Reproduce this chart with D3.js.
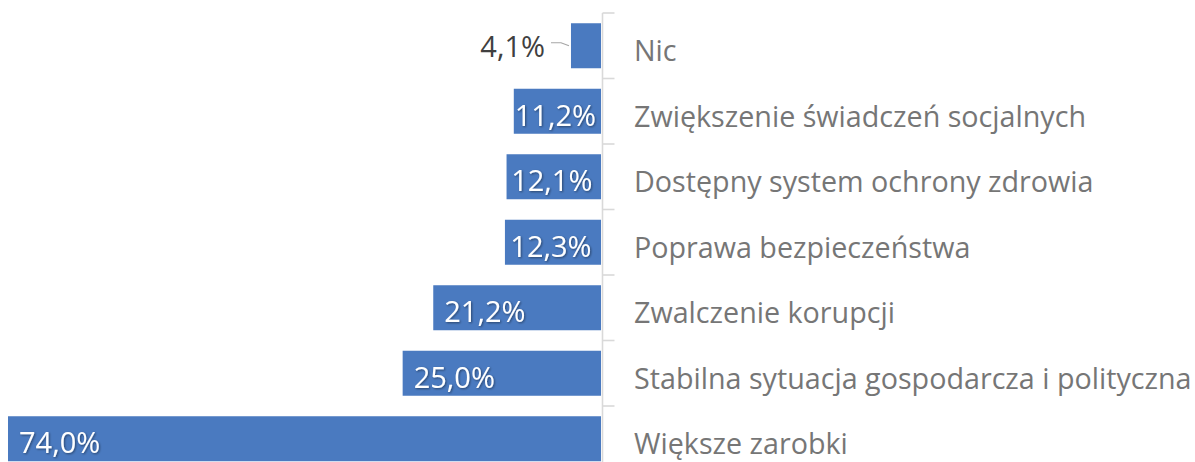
<!DOCTYPE html>
<html>
<head>
<meta charset="utf-8">
<script src="https://cdn.jsdelivr.net/npm/d3@7/dist/d3.min.js"></script>
<style>
  html, body { margin: 0; padding: 0; background: #fff; }
  svg { display: block; }
  .cat { font-family: "Open Sans", "Noto Sans", sans-serif; font-size: 28.7px; fill: #767676; }
  .val { font-family: "Open Sans", "Noto Sans", sans-serif; font-size: 29px; }
</style>
</head>
<body>
<svg id="chart" width="1195" height="462"></svg>
<script>
// Survey answers, top to bottom
const categories = [
  "Nic",
  "Zwiększenie świadczeń socjalnych",
  "Dostępny system ochrony zdrowia",
  "Poprawa bezpieczeństwa",
  "Zwalczenie korupcji",
  "Stabilna sytuacja gospodarcza i polityczna",
  "Większe zarobki"
];
const values = [4.1, 11.2, 12.1, 12.3, 21.2, 25.0, 74.0];
const valueLabels = ["4,1%", "11,2%", "12,1%", "12,3%", "21,2%", "25,0%", "74,0%"];

const data = categories.map((c, i) => ({ cat: c, value: values[i], label: valueLabels[i] }));

const svg = d3.select("#chart");

const defs = svg.append("defs");
const shadow = defs.append("filter").attr("id", "txtShadow")
  .attr("x", "-10%").attr("y", "-20%").attr("width", "130%").attr("height", "150%");
shadow.append("feDropShadow").attr("dx", 1).attr("dy", 1).attr("stdDeviation", 0.8)
  .attr("flood-color", "#000").attr("flood-opacity", 0.45);

// Bars grow leftwards from the axis
const x = d3.scaleLinear().domain([0, 74]).range([604, 8]);
const y = d3.scaleBand().domain(categories)
  .range([13, 13 + 7 * 65.5])
  .paddingInner(0.313).paddingOuter(0.1565);

const axisX = 602.5;
const barEnd = x(0) - 3;

svg.append("g").selectAll("rect").data(data).join("rect")
  .attr("x", d => x(d.value))
  .attr("y", d => y(d.cat))
  .attr("width", d => barEnd - x(d.value))
  .attr("height", y.bandwidth())
  .attr("fill", "#4a7ac0");

// Category axis on the right, ticks between bands
const axisG = svg.append("g");
axisG.append("line")
  .attr("x1", axisX).attr("x2", axisX)
  .attr("y1", y.range()[0]).attr("y2", 470)
  .attr("stroke", "#d9d9d9").attr("stroke-width", 1.6);
const bounds = d3.range(categories.length + 1).map(i => y.range()[0] + i * y.step());
axisG.selectAll("line.tick").data(bounds).join("line")
  .attr("class", "tick")
  .attr("x1", axisX).attr("x2", axisX + 12)
  .attr("y1", d => d).attr("y2", d => d)
  .attr("stroke", "#d9d9d9").attr("stroke-width", 1.6);

axisG.selectAll("text.cat").data(categories).join("text")
  .attr("class", "cat")
  .attr("x", 634)
  .attr("y", d => y(d) + y.bandwidth() / 2 + 4)
  .attr("dominant-baseline", "central")
  .text(d => d);

// Value labels
const labels = svg.append("g");
data.forEach(d => {
  const left = x(d.value);
  const w = barEnd - left;
  const cy = y(d.cat) + y.bandwidth() / 2;
  const t = labels.append("text").attr("class", "val").text(d.label)
    .attr("dominant-baseline", "central");
  const tw = t.node().getComputedTextLength();
  if (w < tw) {
    // too narrow: label outside with a leader line
    t.attr("x", left - 26).attr("y", cy).attr("text-anchor", "end").attr("fill", "#404040");
    labels.append("path")
      .attr("d", `M${left - 20},${cy - 3} L${left - 10},${cy - 3} L${left - 2},${cy}`)
      .attr("fill", "none").attr("stroke", "#a6a6a6").attr("stroke-width", 1.2);
  } else {
    const tx = (w >= tw + 22) ? left + 11 : left + (w - tw) / 2 - 2;
    t.attr("x", tx).attr("y", cy + 3).attr("fill", "#fff")
      .attr("filter", "url(#txtShadow)");
  }
});
</script>
</body>
</html>
